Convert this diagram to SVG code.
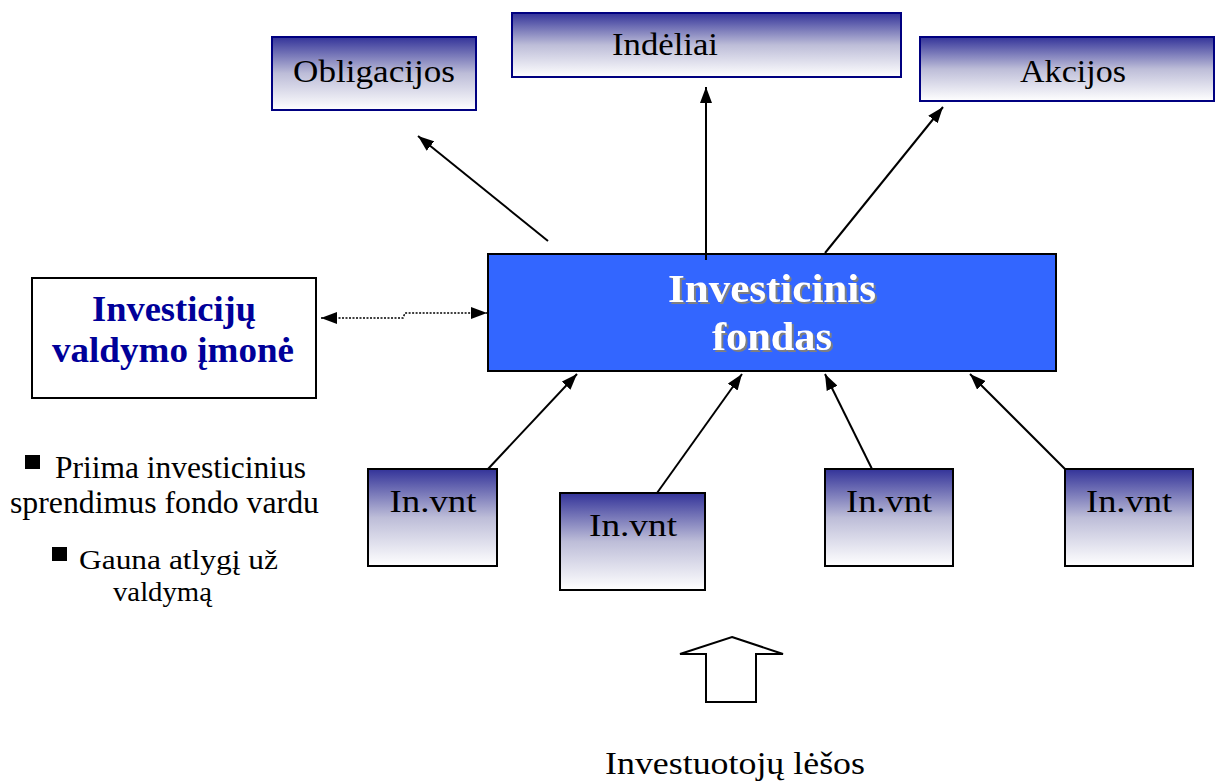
<svg xmlns="http://www.w3.org/2000/svg" width="1217" height="782" viewBox="0 0 1217 782">
  <defs>
    <linearGradient id="grad" x1="0" y1="0" x2="0" y2="1">
      <stop offset="0" stop-color="#333399"/>
      <stop offset="0.5" stop-color="#BDBDD8"/>
      <stop offset="1" stop-color="#FFFFFF"/>
    </linearGradient>
    <marker id="ah" viewBox="0 0 16 12" refX="16" refY="6" markerWidth="16" markerHeight="12" orient="auto-start-reverse" markerUnits="userSpaceOnUse">
      <path d="M0,0 L16,6 L0,12 z" fill="#000"/>
    </marker>
    <filter id="shadow" x="-10%" y="-10%" width="130%" height="140%">
      <feDropShadow dx="2" dy="2" stdDeviation="0.6" flood-color="#808080" flood-opacity="1"/>
    </filter>
  </defs>
  <style>
    .top { fill: url(#grad); stroke: #000080; stroke-width: 2; }
    .unit { fill: url(#grad); stroke: #000; stroke-width: 2; }
    .lbl { font-family: "Liberation Serif", "DejaVu Serif", serif; font-size: 32px; fill: #000; text-anchor: middle; }
    .bul { font-family: "Liberation Serif", "DejaVu Serif", serif; font-size: 31px; fill: #000; }
    .bul2 { font-family: "Liberation Serif", "DejaVu Serif", serif; font-size: 28px; fill: #000; }
    .main { font-family: "Liberation Serif", "DejaVu Serif", serif; font-size: 40px; font-weight: bold; fill: #fff; text-anchor: middle; }
    .mgr { font-family: "Liberation Serif", "DejaVu Serif", serif; font-size: 36px; font-weight: bold; fill: #000099; text-anchor: middle; }
    .conn { stroke: #000; stroke-width: 2; fill: none; marker-end: url(#ah); }
  </style>
  <rect width="1217" height="782" fill="#fff"/>

  <g id="obligacijos">
    <rect class="top" x="272" y="37" width="204" height="73"/>
    <text class="lbl" x="374" y="82" textLength="162" lengthAdjust="spacingAndGlyphs">Obligacijos</text>
  </g>
  <g id="indeliai">
    <rect class="top" x="512" y="13" width="389" height="64"/>
    <text class="lbl" x="665" y="55" textLength="106" lengthAdjust="spacingAndGlyphs">Indėliai</text>
  </g>
  <g id="akcijos">
    <rect class="top" x="920" y="37" width="294" height="64"/>
    <text class="lbl" x="1073" y="82" textLength="106" lengthAdjust="spacingAndGlyphs">Akcijos</text>
  </g>

  <g id="fondas">
    <rect x="488" y="254" width="568" height="117" fill="#3366FF" stroke="#000" stroke-width="2"/>
    <g filter="url(#shadow)">
      <text class="main" x="772" y="302" textLength="208" lengthAdjust="spacingAndGlyphs">Investicinis</text>
      <text class="main" x="772" y="350" textLength="120" lengthAdjust="spacingAndGlyphs">fondas</text>
    </g>
  </g>

  <g id="valdymo-imone">
    <rect x="32" y="278" width="284" height="120" fill="#fff" stroke="#000" stroke-width="2"/>
    <text class="mgr" x="174" y="321" textLength="164" lengthAdjust="spacingAndGlyphs">Investicijų</text>
    <text class="mgr" x="173" y="362" textLength="242" lengthAdjust="spacingAndGlyphs">valdymo įmonė</text>
  </g>

  <g id="invnt1">
    <rect class="unit" x="368" y="469" width="129" height="97"/>
    <text class="lbl" x="433" y="512" textLength="87" lengthAdjust="spacingAndGlyphs">In.vnt</text>
  </g>
  <g id="invnt2">
    <rect class="unit" x="560" y="493" width="145" height="97"/>
    <text class="lbl" x="633" y="536" textLength="88" lengthAdjust="spacingAndGlyphs">In.vnt</text>
  </g>
  <g id="invnt3">
    <rect class="unit" x="825" y="469" width="128" height="97"/>
    <text class="lbl" x="889" y="512" textLength="86" lengthAdjust="spacingAndGlyphs">In.vnt</text>
  </g>
  <g id="invnt4">
    <rect class="unit" x="1065" y="469" width="128" height="97"/>
    <text class="lbl" x="1129" y="512" textLength="86" lengthAdjust="spacingAndGlyphs">In.vnt</text>
  </g>

  <g id="notes">
    <rect x="25" y="455" width="15" height="14" fill="#000"/>
    <text class="bul" x="55" y="478" textLength="251" lengthAdjust="spacingAndGlyphs">Priima investicinius</text>
    <text class="bul" x="10" y="513" textLength="309" lengthAdjust="spacingAndGlyphs">sprendimus fondo vardu</text>
    <rect x="52" y="547" width="15" height="14" fill="#000"/>
    <text class="bul2" x="79" y="569" textLength="199" lengthAdjust="spacingAndGlyphs">Gauna atlygį už</text>
    <text class="bul2" x="113" y="601" textLength="99" lengthAdjust="spacingAndGlyphs">valdymą</text>
  </g>

  <g id="lesos">
    <polygon points="732,637 783,654 756,654 756,702 706,702 706,654 680,654" fill="#fff" stroke="#000" stroke-width="2" stroke-linejoin="miter"/>
    <text class="lbl" x="735" y="774" textLength="260" lengthAdjust="spacingAndGlyphs">Investuotojų lėšos</text>
  </g>

  <g id="connectors">
    <line class="conn" x1="548" y1="241" x2="418" y2="136"/>
    <line class="conn" x1="706" y1="260" x2="706" y2="87"/>
    <line class="conn" x1="825" y1="253" x2="943" y2="107"/>
    <line class="conn" x1="488" y1="469" x2="577" y2="374"/>
    <line class="conn" x1="657" y1="493" x2="742" y2="374"/>
    <line class="conn" x1="872" y1="469" x2="825" y2="374"/>
    <line class="conn" x1="1065" y1="469" x2="970" y2="374"/>
    <path d="M321,318 L403,318 L405,313 L487,313" fill="none" stroke="#000" stroke-width="1.5" stroke-dasharray="2,1.5" marker-start="url(#ah)" marker-end="url(#ah)"/>
  </g>
</svg>
